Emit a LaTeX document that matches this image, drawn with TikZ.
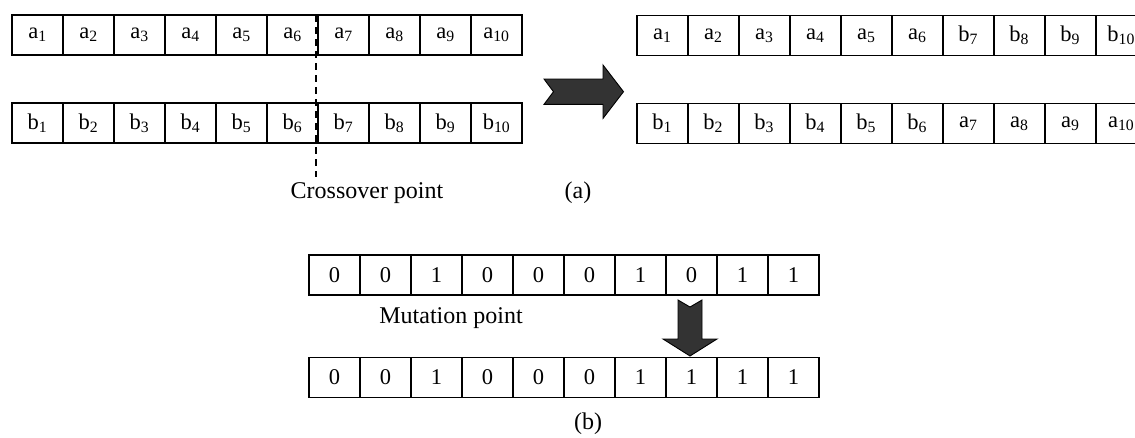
\documentclass[tikz,border=0pt]{standalone}
\usepackage{fontspec}
\setmainfont{Liberation Serif}
\definecolor{arrowgray}{RGB}{51,51,51}
\begin{document}
\begin{tikzpicture}[x=1pt,y=-1pt,
  cell/.style={draw, line width=1.7pt, minimum width=51pt, minimum height=40pt, inner sep=0pt, font=\fontsize{22.5}{26}\selectfont},
  lbl/.style={font=\fontsize{24}{28}\selectfont, inner sep=0pt},
  blockarrow/.style={fill=arrowgray, draw=black, line width=0.9pt, line join=miter},
  cutline/.style={line width=1.5pt, dash pattern=on 7pt off 5pt}]
\useasboundingbox (0,0) rectangle (1135,437);
\begin{scope}
\clip (0,0) rectangle (1135,437);
% (a) parents
\foreach \i in {1,...,10} {
  \node[cell] (pa\i) at ({12+51*(\i-0.5)},35) {a\textsubscript{\i}};
  \node[cell] (pb\i) at ({12+51*(\i-0.5)},123) {b\textsubscript{\i}};
}
% (a) children
\foreach \l/\n [count=\i] in {a/1,a/2,a/3,a/4,a/5,a/6,b/7,b/8,b/9,b/10} {
  \node[cell] (ca\i) at ({636.7+51*(\i-0.5)},35.5) {\l\textsubscript{\n}};
}
\foreach \l/\n [count=\i] in {b/1,b/2,b/3,b/4,b/5,b/6,a/7,a/8,a/9,a/10} {
  \node[cell] (cb\i) at ({636.7+51*(\i-0.5)},123.5) {\l\textsubscript{\n}};
}
\end{scope}
% crossover line
\coordinate (cpTop) at (316,15);
\coordinate (cpBot) at (316,177);
\draw[cutline] (cpTop) -- (cpBot);
\node[lbl] (cptext) at (367,193) {Crossover point};
\node[lbl] (lab-a) at (578,193) {(a)};
% crossover arrow
\draw[blockarrow] (544,79) -- (603,79) -- (603,65) -- (623.5,91.7) -- (603,118.4) -- (603,104.4) -- (544,104.4) -- (553.5,91.7) -- cycle;
% (b) mutation
\foreach \v [count=\i] in {0,0,1,0,0,0,1,0,1,1} {
  \node[cell] (m\i) at ({309+51*(\i-0.5)},275) {\v};
}
\foreach \v [count=\i] in {0,0,1,0,0,0,1,1,1,1} {
  \node[cell] (n\i) at ({309+51*(\i-0.5)},377.5) {\v};
}
\node[lbl] (mptext) at (451,318) {Mutation point};
\draw[blockarrow] (678,300) -- (690,307) -- (702,300) -- (702,339) -- (717,339) -- (690,356) -- (663,339) -- (678,339) -- cycle;
\node[lbl] (lab-b) at (588,424) {(b)};
\end{tikzpicture}
\end{document}
